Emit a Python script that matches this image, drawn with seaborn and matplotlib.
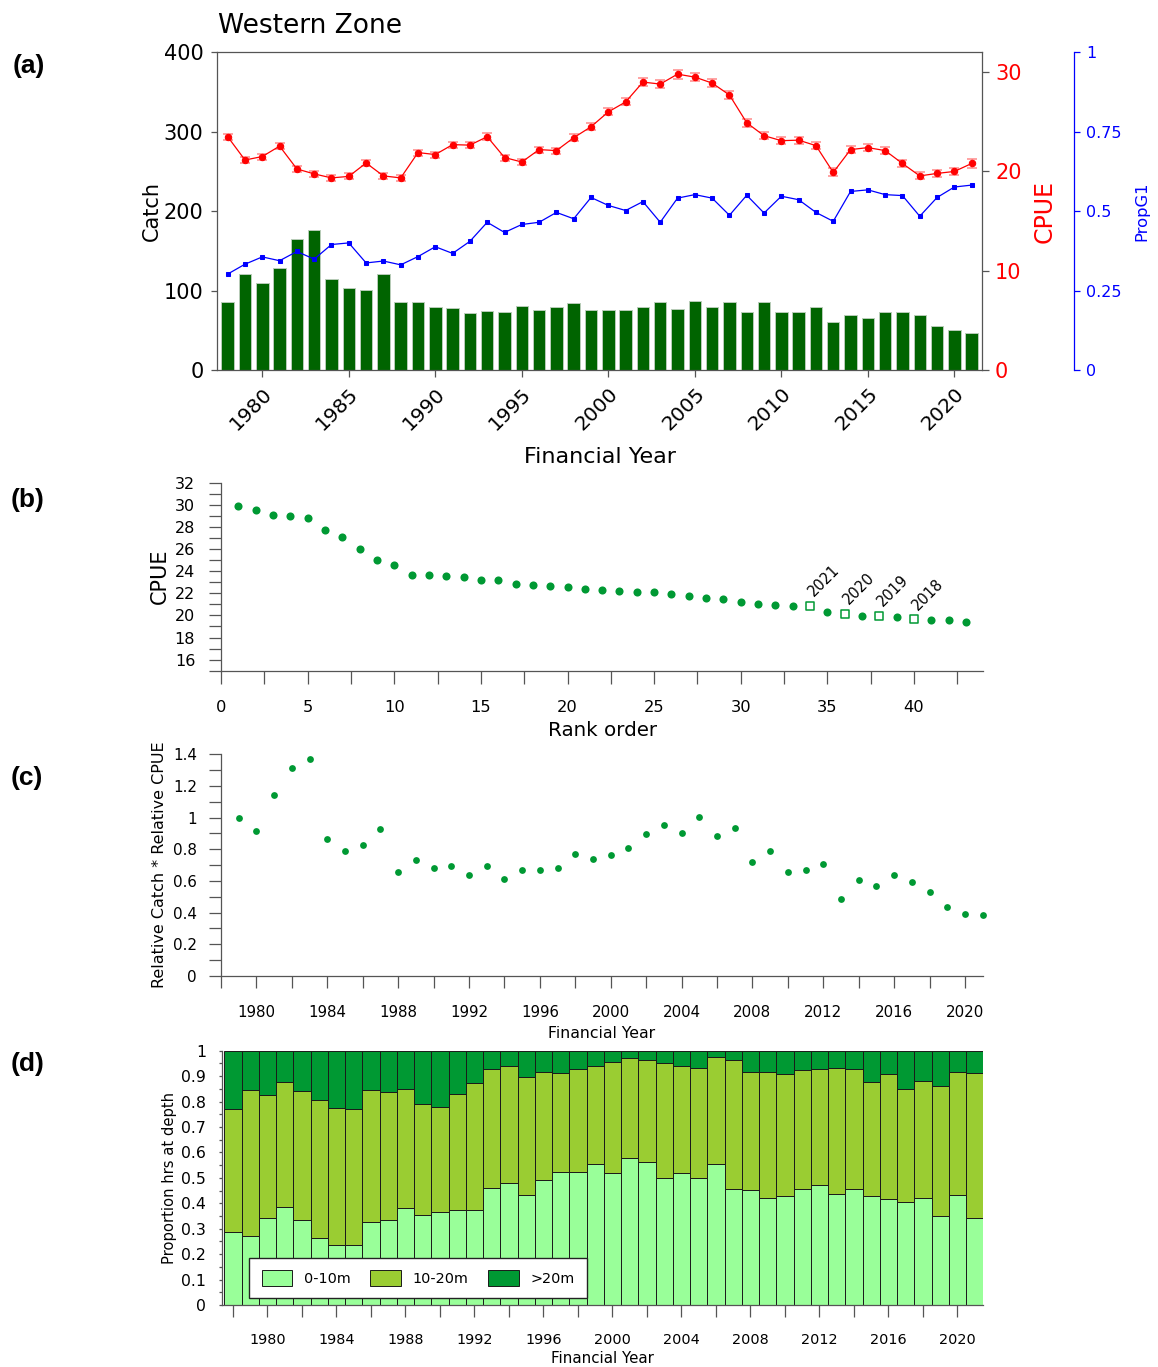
import numpy as np
import pandas as pd
import matplotlib
matplotlib.use("Agg")
import matplotlib.pyplot as plt
from matplotlib.ticker import FixedLocator, FuncFormatter
import seaborn as sns

# ---------------- data ----------------
years = list(range(1978, 2022))
catch = [85, 121, 109, 129, 165, 176, 114, 103, 101, 121, 86, 85, 79, 78, 72, 74, 73, 81, 76, 79, 84, 76,
         75, 76, 79, 85, 77, 87, 79, 86, 73, 85, 73, 73, 79, 61, 69, 65, 73, 73, 69, 55, 50, 47]
cpue = [23.5, 21.15, 21.5, 22.55, 20.25, 19.75, 19.35, 19.5, 20.85, 19.55, 19.35, 21.9, 21.7, 22.7, 22.65,
        23.5, 21.4, 20.95, 22.2, 22.1, 23.4, 24.5,
        26.0, 27.0, 29.0, 28.8, 29.8, 29.5, 28.9, 27.7, 24.9, 23.6, 23.1, 23.15, 22.6, 19.9, 22.2, 22.4,
        22.1, 20.8, 19.55, 19.8, 20.0, 20.8]
cpue_se = [0.32, 0.3, 0.3, 0.3, 0.3, 0.3, 0.3, 0.3, 0.3, 0.3, 0.3, 0.3, 0.3, 0.3, 0.3, 0.35, 0.3, 0.3,
           0.3, 0.3, 0.35, 0.35,
           0.35, 0.35, 0.4, 0.4, 0.45, 0.4, 0.4, 0.4, 0.4, 0.35, 0.35, 0.35, 0.35, 0.4, 0.35, 0.35,
           0.35, 0.35, 0.35, 0.35, 0.35, 0.45]
prop_g1 = [0.302, 0.333, 0.356, 0.344, 0.373, 0.349, 0.395, 0.400, 0.337, 0.343, 0.331, 0.357, 0.388,
           0.367, 0.405, 0.465, 0.433, 0.458, 0.465, 0.496, 0.476, 0.543,
           0.518, 0.502, 0.530, 0.465, 0.541, 0.552, 0.541, 0.487, 0.550, 0.494, 0.547, 0.536, 0.496,
           0.468, 0.562, 0.567, 0.552, 0.549, 0.484, 0.543, 0.576, 0.582]

# CPUE in descending rank order (1979-2021)
rank_cpue = [29.89, 29.53, 29.10, 28.95, 28.77, 27.75, 27.05, 26.02, 24.97, 24.55,
             23.67, 23.61, 23.55, 23.46, 23.22, 23.16, 22.80, 22.71, 22.65, 22.58,
             22.40, 22.28, 22.25, 22.13, 22.13, 21.92, 21.80, 21.58, 21.44, 21.19,
             21.01, 20.92, 20.86, 20.83, 20.35, 20.11, 19.99, 19.93, 19.86, 19.65,
             19.59, 19.56, 19.40]
flagged_ranks = [34, 36, 38, 40]
flagged_years = ["2021", "2020", "2019", "2018"]

rel_years = list(range(1979, 2022))
rel_index = [1.00, 0.916, 1.141, 1.312, 1.368, 0.863, 0.792, 0.825, 0.926, 0.655,
             0.733, 0.680, 0.693, 0.638, 0.693, 0.615, 0.672, 0.667, 0.684, 0.771,
             0.737, 0.766, 0.811, 0.899, 0.956, 0.903, 1.006, 0.886, 0.933, 0.720,
             0.792, 0.659, 0.669, 0.705, 0.484, 0.606, 0.571, 0.638, 0.592, 0.531,
             0.436, 0.392, 0.385]

depth_years = list(range(1978, 2022))
depth_0_10 = [0.288, 0.270, 0.343, 0.385, 0.333, 0.262, 0.235, 0.235, 0.325, 0.336,
              0.380, 0.353, 0.367, 0.375, 0.374, 0.460, 0.478, 0.433, 0.491, 0.522,
              0.522, 0.554, 0.519, 0.578, 0.562, 0.499, 0.520, 0.499, 0.556, 0.456,
              0.451, 0.421, 0.427, 0.456, 0.472, 0.435, 0.455, 0.429, 0.417, 0.405,
              0.421, 0.350, 0.434, 0.343]
depth_10_20 = [0.481, 0.577, 0.483, 0.493, 0.510, 0.545, 0.538, 0.534, 0.522, 0.500,
               0.469, 0.436, 0.410, 0.453, 0.498, 0.467, 0.460, 0.462, 0.424, 0.389,
               0.407, 0.384, 0.435, 0.392, 0.400, 0.451, 0.418, 0.433, 0.418, 0.506,
               0.466, 0.496, 0.483, 0.468, 0.455, 0.496, 0.472, 0.448, 0.493, 0.444,
               0.458, 0.511, 0.483, 0.568]
depth_20_plus = [0.231, 0.153, 0.174, 0.122, 0.157, 0.193, 0.227, 0.231, 0.153, 0.164,
                 0.151, 0.211, 0.223, 0.172, 0.128, 0.073, 0.062, 0.105, 0.085, 0.089,
                 0.071, 0.062, 0.046, 0.030, 0.038, 0.050, 0.062, 0.068, 0.026, 0.038,
                 0.083, 0.083, 0.090, 0.076, 0.073, 0.069, 0.073, 0.123, 0.090, 0.151,
                 0.121, 0.139, 0.083, 0.089]
depth_labels = ["0-10m", "10-20m", ">20m"]
depth_colors = ["#99FF99", "#9ACD32", "#009933"]

# ---------------- style ----------------
sns.set_theme(style="ticks")
plt.rcParams["font.family"] = ["DejaVu Sans"]
plt.rcParams["axes.linewidth"] = 0.9
plt.rcParams["text.color"] = "black"
plt.rcParams["axes.labelcolor"] = "black"
plt.rcParams["xtick.labelcolor"] = "black"
plt.rcParams["ytick.labelcolor"] = "black"

SPINE = "#555555"
GREEN = "#009933"
W, H = 1158, 1367
fig = plt.figure(figsize=(W / 100, H / 100), dpi=100)


def box(l, t, r, b):
    return [l / W, 1 - b / H, (r - l) / W, (b - t) / H]


fmt = FuncFormatter(lambda v, _: f"{v:g}")


def style_spines(ax, visible, color=SPINE):
    for name, sp in ax.spines.items():
        sp.set_visible(name in visible)
        sp.set_color(color)
        sp.set_linewidth(0.9)


# ---------------- (a) catch, CPUE and PropG1 ----------------
df_a = pd.DataFrame({"year": years, "catch": catch, "cpue": cpue,
                     "se": cpue_se, "propg1": prop_g1})

ax = fig.add_axes(box(217.3, 52.3, 981.7, 370))
sns.barplot(data=df_a, x="year", y="catch", native_scale=True, width=0.72,
            color="#006400", saturation=1, edgecolor="#b8ccb8", linewidth=0.7,
            errorbar=None, ax=ax)
style_spines(ax, ["left", "top", "bottom"])
ax.set_ylim(0, 400)
ax.yaxis.set_major_locator(FixedLocator(range(0, 401, 100)))
ax.set_xticks(list(range(1980, 2021, 5)),
              labels=[str(y) for y in range(1980, 2021, 5)],
              rotation=45, ha="right", rotation_mode="anchor", fontsize=14.5)
ax.tick_params(axis="y", length=4, width=0.9, color=SPINE, pad=6, labelsize=15)
ax.tick_params(axis="x", length=5, width=0.9, color=SPINE, pad=5)
ax.set_ylabel("Catch", fontsize=15)
ax.yaxis.set_label_coords(-0.0723, 0.5)
ax.set_xlabel("Financial Year", fontsize=16)
ax.xaxis.set_label_coords(0.5, -0.2411)

ax2 = ax.twinx()
ax2.errorbar(df_a["year"], df_a["cpue"], yerr=df_a["se"], fmt="none",
             ecolor="#ff8a8a", elinewidth=1.1, capsize=3.5, capthick=1.1, zorder=2)
sns.lineplot(data=df_a, x="year", y="cpue", ax=ax2, color="red", marker="o",
             markersize=4.6, markeredgecolor="red", linewidth=0.9, errorbar=None, zorder=3)
ax2.set_ylim(0, 32)
ax2.yaxis.set_major_locator(FixedLocator([0, 10, 20, 30]))
style_spines(ax2, ["right"])
ax2.tick_params(axis="y", length=4.8, width=0.9, color=SPINE, labelcolor="red",
                pad=4.8, labelsize=15)
ax2.set_ylabel("CPUE", color="red", fontsize=17)
ax2.yaxis.set_label_coords(1.0666, 0.5)

ax3 = ax.twinx()
ax3.spines["right"].set_position(("axes", 1.1211))
sns.lineplot(data=df_a, x="year", y="propg1", ax=ax3, color="blue", marker="s",
             markersize=2.4, markeredgecolor="blue", linewidth=0.9, errorbar=None)
ax3.set_ylim(0, 1)
ax3.yaxis.set_major_locator(FixedLocator([0, 0.25, 0.5, 0.75, 1]))
ax3.yaxis.set_major_formatter(fmt)
style_spines(ax3, ["right"], color="blue")
ax3.tick_params(axis="y", length=4, width=0.9, color="blue", labelcolor="blue",
                pad=4.8, labelsize=11.5)
ax3.set_ylabel("PropG1", color="blue", fontsize=11.8)
ax3.yaxis.set_label_coords(1.1999, 0.5)

ax.set_xlim(1977.4, 2021.58)

fig.text(218.3 / W, 1 - 33.3 / H, "Western Zone", fontsize=19, color="black",
         ha="left", va="baseline")

# ---------------- (b) ranked CPUE ----------------
axb = fig.add_axes(box(221, 482.7, 983.3, 670.7))
df_b = pd.DataFrame({"rank": np.arange(1, len(rank_cpue) + 1), "cpue": rank_cpue})
flag = df_b["rank"].isin(flagged_ranks)
sns.scatterplot(data=df_b[~flag], x="rank", y="cpue", color=GREEN, s=34,
                linewidth=0, ax=axb)
sns.scatterplot(data=df_b[flag], x="rank", y="cpue", marker="s", color="white",
                edgecolor=GREEN, linewidth=1.1, s=30, ax=axb)
for r, lab in zip(flagged_ranks, flagged_years):
    axb.annotate(lab, (r, rank_cpue[r - 1]), xytext=(2.8, 6.3),
                 textcoords="offset points", rotation=45, rotation_mode="anchor",
                 ha="left", va="baseline", fontsize=10.5, color="black")
style_spines(axb, ["left", "bottom"])
axb.set_xlim(0, 44)
axb.set_ylim(15, 32)
axb.xaxis.set_major_locator(FixedLocator(range(0, 41, 5)))
axb.xaxis.set_minor_locator(FixedLocator([2.5 + 5 * i for i in range(9)]))
axb.yaxis.set_major_locator(FixedLocator(range(16, 33, 2)))
axb.yaxis.set_minor_locator(FixedLocator(range(15, 33, 2)))
axb.tick_params(which="both", length=9, width=0.9, color=SPINE)
axb.tick_params(axis="x", pad=12, labelsize=11.7)
axb.tick_params(axis="y", pad=9.6, labelsize=11.5)
axb.set_ylabel("CPUE", fontsize=15)
axb.yaxis.set_label_coords(-0.0669, 0.5)
axb.set_xlabel("Rank order", fontsize=14.3)
axb.xaxis.set_label_coords(0.5, -0.2676)

# ---------------- (c) relative catch x relative CPUE ----------------
axc = fig.add_axes(box(221, 754.3, 982.7, 976))
df_c = pd.DataFrame({"year": rel_years, "index": rel_index})
sns.scatterplot(data=df_c, x="year", y="index", color=GREEN, s=24, linewidth=0,
                ax=axc, clip_on=False)
style_spines(axc, ["left", "bottom"])
axc.set_xlim(1978, 2021)
axc.set_ylim(0, 1.4)
axc.xaxis.set_major_locator(FixedLocator(range(1980, 2021, 4)))
axc.xaxis.set_minor_locator(FixedLocator(range(1978, 2021, 4)))
axc.yaxis.set_major_locator(FixedLocator([0, 0.2, 0.4, 0.6, 0.8, 1.0, 1.2, 1.4]))
axc.yaxis.set_minor_locator(FixedLocator([0.1, 0.3, 0.5, 0.7, 0.9, 1.1, 1.3]))
axc.yaxis.set_major_formatter(fmt)
axc.tick_params(which="both", length=8.9, width=0.9, color=SPINE)
axc.tick_params(axis="x", pad=12, labelsize=10.8)
axc.tick_params(axis="y", pad=8.4, labelsize=10.9)
axc.set_ylabel("Relative Catch * Relative CPUE", fontsize=11.5)
axc.yaxis.set_label_coords(-0.0708, 0.5)
axc.set_xlabel("Financial Year", fontsize=11.3)
axc.xaxis.set_label_coords(0.5, -0.226)

# ---------------- (d) proportion of hours by depth ----------------
axd = fig.add_axes(box(221.7, 1050.7, 983.3, 1305))
base = np.zeros(len(depth_years))
for vals, lab, col in zip([depth_0_10, depth_10_20, depth_20_plus], depth_labels, depth_colors):
    axd.bar(depth_years, vals, bottom=base, width=1.0, color=col,
            edgecolor="#1a1a1a", linewidth=0.7, label=lab)
    base = base + np.asarray(vals)
style_spines(axd, ["left", "bottom"])
axd.set_xlim(1977.35, 2021.5)
axd.set_ylim(0, 1)
axd.xaxis.set_major_locator(FixedLocator(range(1980, 2021, 4)))
axd.xaxis.set_minor_locator(FixedLocator(range(1978, 2021, 4)))
axd.yaxis.set_major_locator(FixedLocator(np.round(np.arange(0, 1.01, 0.1), 2)))
axd.yaxis.set_minor_locator(FixedLocator(np.round(np.arange(0.05, 1.0, 0.1), 2)))
axd.yaxis.set_major_formatter(fmt)
axd.tick_params(axis="x", which="both", length=8.6, width=0.9, color=SPINE,
                pad=11.5, labelsize=10.4)
axd.tick_params(axis="y", which="both", length=2.2, width=0.9, color=SPINE,
                pad=9, labelsize=11.3)
axd.set_ylabel("Proportion hrs at depth", fontsize=10.6)
axd.yaxis.set_label_coords(-0.0591, 0.5)
axd.set_xlabel("Financial Year", fontsize=10.8)
axd.xaxis.set_label_coords(0.5, -0.182)
leg = axd.legend(loc="lower left", bbox_to_anchor=(0.036, 0.026), ncol=3,
                 fontsize=10.4, frameon=True, fancybox=False, framealpha=1,
                 edgecolor="#222222", borderaxespad=0, handlelength=2.14,
                 handleheight=1.27, handletextpad=0.8, columnspacing=1.34,
                 borderpad=0.86)
leg.get_frame().set_linewidth(1.0)
for t in leg.get_texts():
    t.set_color("black")

# ---------------- panel letters ----------------
for lab, x, y in [("(a)", 13, 73.5), ("(b)", 11, 507.5), ("(c)", 11, 785.5), ("(d)", 11, 1070.5)]:
    fig.text(x / W, 1 - y / H, lab, fontsize=19, fontweight="bold", color="black",
             family=["Liberation Sans", "DejaVu Sans"], ha="left", va="baseline")

fig.savefig("out.png", dpi=100, facecolor="white")
